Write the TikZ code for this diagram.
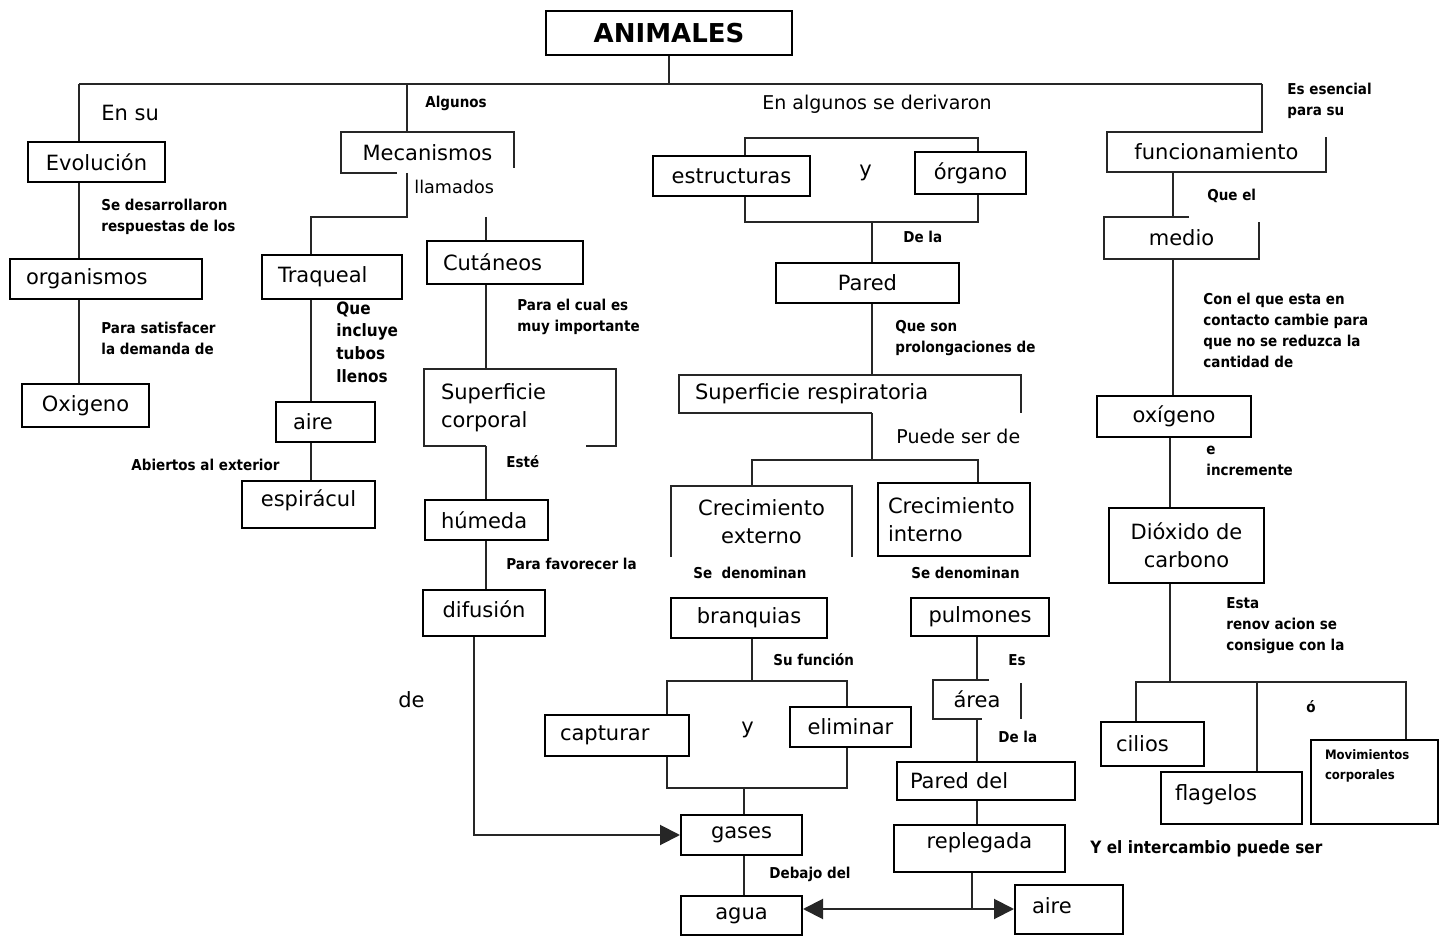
\documentclass[tikz,border=0pt]{standalone}
\usepackage{fontspec}
\setmainfont{DejaVu Sans}
\newfontfamily\condfont[FakeStretch=0.9]{DejaVu Sans}
\usetikzlibrary{arrows.meta, positioning, calc}
\newcommand{\fBox}{\fontsize{10.5}{14}\selectfont}
\newcommand{\fTitle}{\bfseries\fontsize{13}{15}\selectfont}
\newcommand{\fMid}{\fontsize{9.5}{12}\selectfont}
\newcommand{\fLbl}{\condfont\bfseries\fontsize{7.5}{10.5}\selectfont}
\newcommand{\fMedB}{\condfont\bfseries\fontsize{8.5}{11.3}\selectfont}
\newcommand{\fMov}{\condfont\bfseries\fontsize{6.5}{10}\selectfont}

\begin{document}
\begin{tikzpicture}[x=0.5pt, y=-0.5pt,
        box/.style={draw, line width=1pt, inner sep=0pt, font=\fBox, align=center},
        obox/.style={box, draw=none},
        lnk/.style={line width=1pt, draw=black!85},
        tip/.style={lnk, -{Triangle[length=10pt,width=10pt]}},
        lbl/.style={anchor=west, inner sep=0pt, align=left, font=\fLbl}
      ]
        \useasboundingbox (0,0) rectangle (1448,936);

        % Top
        \node (anim) [box, font=\fTitle, minimum width=123pt, minimum height=22pt] at (669,33) {ANIMALES};
        \coordinate (barL) at (79,84);
        \coordinate (barR) at (1262,84);
        \draw [lnk] (anim.south) -- (anim.south |- barL);
        \draw [lnk] (barL) -- (barR);

        % Evolution branch
        \node (evo) [box, minimum width=68.5pt, minimum height=20pt] at (96.5,162) {Evolución};
        \node (orgs) [box, minimum width=96pt, minimum height=20pt, text width=80pt, align=left] at (106,279) {organismos};
        \node (oxi) [box, minimum width=63.5pt, minimum height=21.5pt] at (85.5,405.5) {Oxigeno};
        \draw [lnk] (barL) -- (barL |- evo.north);
        \draw [lnk] (evo.south -| barL) -- (orgs.north -| barL);
        \draw [lnk] (orgs.south -| barL) -- (oxi.north -| barL);
        \node (lEnsu) [lbl, font=\fBox] at (101,113) {En su};
        \node (lDesa) [lbl] at (101,217) {Se desarrollaron\\respuestas de los};
        \node (lSatis) [lbl] at (101,338) {Para satisfacer\\la demanda de};

        % Mechanisms branch
        \node (mec) [obox, minimum width=85.5pt, minimum height=19.5pt] at (427.5,152.5) {Mecanismos};
        \coordinate (mecT) at (407,84);
        \coordinate (trqbar) at (407,217);
        \coordinate (trqL) at (311,217);
        \coordinate (cutT) at (486,217);
        \draw [lnk] (mecT) -- (mecT |- mec.north);
        \draw [lnk] ($(mec.south west)+(56,0)$) -- (mec.south west) -- (mec.north west) -- (mec.north east) -- ++(0,36);
        \node (lAlg) [lbl] at (425,103) {Algunos};
        \node (lLlam) [lbl, font=\fontsize{8.8}{11}\selectfont] at (414,187) {llamados};

        \node (traq) [box, minimum width=70pt, minimum height=22pt, text width=54pt, align=left] at (332,277) {Traqueal};
        \node (aire) [box, minimum width=49.5pt, minimum height=20pt, text width=32.5pt, align=left] at (325.5,422) {aire};
        \node (espi) [box, minimum width=66.5pt, minimum height=23.5pt, text depth=6.5pt] at (308.5,504.5) {espirácul};
        \draw [lnk] (mec.south -| mecT) -- (trqbar) -- (trqL) -- (trqL |- traq.north);
        \draw [lnk] (traq.south -| trqL) -- (aire.north -| trqL);
        \draw [lnk] (aire.south -| trqL) -- (espi.north -| trqL);
        \node (lTubos) [lbl, font=\fMedB] at (336,342) {Que\\incluye\\tubos\\llenos};
        \node (lAbier) [lbl] at (131,465) {Abiertos al exterior};

        \node (cut) [box, minimum width=78pt, minimum height=21.5pt, text width=62pt, align=left] at (505,262.5) {Cutáneos};
        \node (supc) [obox, minimum width=95pt, minimum height=37.5pt, text width=79pt, align=left] at (520,407.5) {Superficie\\corporal};
        \node (hum) [box, minimum width=61.5pt, minimum height=20pt, text width=45.5pt, align=left] at (486.5,520) {húmeda};
        \node (dif) [box, minimum width=61pt, minimum height=23pt, text depth=4pt] at (484,613) {difusión};
        \draw [lnk] (cutT) -- (cutT |- cut.north);
        \draw [lnk] (cut.south -| cutT) -- (supc.north -| cutT);
        \draw [lnk] (supc.south -| cutT) -- (supc.south west) -- (supc.north west) -- (supc.north east) -- (supc.south east) -- ++(-30,0);
        \draw [lnk] (supc.south -| cutT) -- (hum.north -| cutT);
        \draw [lnk] (hum.south -| cutT) -- (dif.north -| cutT);
        \node (lCual) [lbl] at (517,317) {Para el cual es\\muy importante};
        \node (lEste) [lbl] at (506,462) {Esté};
        \node (lFavor) [lbl] at (506,564) {Para favorecer la};
        \node (lDe) [lbl, font=\fBox] at (398,700) {de};

        % Structures branch
        \node (lDeriv) [lbl, font=\fMid] at (762,104) {En algunos se derivaron};
        \node (estr) [box, minimum width=78.5pt, minimum height=20pt] at (731.5,176) {estructuras};
        \node (organo) [box, minimum width=55.5pt, minimum height=21pt] at (970.5,173) {órgano};
        \node (lY1) [lbl, font=\fBox] at (859,173) {y};
        \coordinate (brL) at (745,138);
        \coordinate (brR) at (978,138);
        \coordinate (brB) at (872,222);
        \draw [lnk] (brL |- estr.north) -- (brL) -- (brR) -- (brR |- organo.north);
        \draw [lnk] (brL |- estr.south) -- (brL |- brB) -- (brR |- brB) -- (brR |- organo.south);

        \node (pared) [box, minimum width=91.5pt, minimum height=20pt] at (867.5,283) {Pared};
        \node (supr) [obox, minimum width=170pt, minimum height=18pt, text width=155pt, align=left] at (850,394) {Superficie respiratoria};
        \draw [lnk] (brB) -- (brB |- pared.north);
        \draw [lnk] (pared.south -| brB) -- (supr.north -| brB);
        \draw [lnk] (supr.south -| brB) -- (supr.south west) -- (supr.north west) -- (supr.north east) -- ++(0,38);
        \node (lDela1) [lbl] at (903,237) {De la};
        \node (lProl) [lbl] at (895,338) {Que son\\prolongaciones de};
        \node (lPuede) [lbl, font=\fMid] at (896,436) {Puede ser de};

        \node (crex) [obox, minimum width=89.5pt, minimum height=34.5pt] at (761.5,521.5) {Crecimiento\\externo};
        \node (crin) [box, minimum width=76pt, minimum height=36.5pt, text width=66pt, align=left] at (954,519.5) {Crecimiento\\interno};
        \coordinate (crL) at (752,460);
        \coordinate (crR) at (978,460);
        \draw [lnk] (supr.south -| brB) -- (brB |- crL);
        \draw [lnk] (crL |- crex.north) -- (crL) -- (crR) -- (crR |- crin.north);
        \draw [lnk] (crex.south west) -- (crex.north west) -- (crex.north east) -- (crex.south east);
        \node (lDen1) [lbl] at (693,573) {Se\ \ denominan};
        \node (lDen2) [lbl] at (911,573) {Se denominan};

        % Gills
        \node (bran) [box, minimum width=78pt, minimum height=20pt] at (749,618) {branquias};
        \node (capt) [box, minimum width=72pt, minimum height=20.5pt, text width=57pt, align=left] at (617,735.5) {capturar};
        \node (elim) [box, minimum width=60.5pt, minimum height=20pt] at (850.5,727) {eliminar};
        \node (gases) [box, minimum width=60.5pt, minimum height=20pt] at (741.5,835) {gases};
        \node (agua) [box, minimum width=60.5pt, minimum height=19.5pt] at (741.5,915.5) {agua};
        \node (lY2) [lbl, font=\fBox] at (741,730) {y};
        \coordinate (fnT) at (752,681);
        \coordinate (fnL) at (667,681);
        \coordinate (fnR) at (847,681);
        \coordinate (fnB) at (744,788);
        \coordinate (difL) at (474,0);
        \draw [lnk] (bran.south -| fnT) -- (fnT);
        \draw [lnk] (fnL |- capt.north) -- (fnL) -- (fnR) -- (fnR |- elim.north);
        \draw [lnk] (fnL |- capt.south) -- (fnL |- fnB) -- (fnR |- fnB) -- (fnR |- elim.south);
        \draw [lnk] (fnB) -- (fnB |- gases.north);
        \draw [lnk] (gases.south -| fnB) -- (agua.north -| fnB);
        \draw [tip] (dif.south -| difL) |- (gases.west);
        \node (lFunc) [lbl] at (773,660) {Su función};
        \node (lDebajo) [lbl] at (769,874) {Debajo del};

        % Lungs
        \node (pulm) [box, minimum width=69pt, minimum height=19pt] at (980,617) {pulmones};
        \node (area) [obox, minimum width=43pt, minimum height=18.5pt] at (977,699.5) {área};
        \node (pdel) [box, minimum width=89pt, minimum height=19pt, text width=76pt, align=left] at (986,781) {Pared del};
        \node (repl) [box, minimum width=85.5pt, minimum height=23.5pt, text depth=7.5pt] at (979.5,848.5) {replegada};
        \node (aire2) [box, minimum width=54pt, minimum height=24.5pt, text width=37pt, align=left, text depth=4pt] at (1069,909.5) {aire};
        \coordinate (puX) at (977,0);
        \coordinate (jn) at (972,909);
        \draw [lnk] (pulm.south -| puX) -- (area.north -| puX);
        \draw [lnk] ($(area.north west)+(56,0)$) -- (area.north west) -- (area.south west) -- ++(49,0);
        \draw [lnk] ($(area.north east)+(0,3)$) -- (area.south east);
        \draw [lnk] (area.south -| puX) -- (pdel.north -| puX);
        \draw [lnk] (pdel.south -| puX) -- (repl.north -| puX);
        \draw [lnk] (repl.south -| jn) -- (jn);
        \draw [lnk, {Triangle[length=10pt,width=10pt]}-{Triangle[length=10pt,width=10pt]}] (agua.east |- jn) -- (aire2.west |- jn);
        \node (lEs) [lbl] at (1008,660) {Es};
        \node (lDela2) [lbl] at (998,737) {De la};
        \node (lInter) [lbl, font=\fMedB] at (1090,849) {Y el intercambio puede ser};

        % Function branch
        \node (func) [obox, minimum width=108.5pt, minimum height=19pt] at (1216.5,152) {funcionamiento};
        \node (medio) [obox, minimum width=76.5pt, minimum height=20pt] at (1181.5,238) {medio};
        \node (oxg) [box, minimum width=77pt, minimum height=20.5pt] at (1174,416.5) {oxígeno};
        \node (diox) [box, minimum width=77.5pt, minimum height=37.5pt] at (1186.5,545.5) {Dióxido de\\carbono};
        \coordinate (fuX) at (1173,0);
        \coordinate (oxX) at (1170,0);
        \draw [lnk] (barR) -- (barR |- func.north) -- (func.north west) -- (func.south west) -- (func.south east) -- ++(0,-35);
        \draw [lnk] (func.south -| fuX) -- (medio.north -| fuX);
        \draw [lnk] ($(medio.north west)+(85,0)$) -- (medio.north west) -- (medio.south west) -- (medio.south east) -- ++(0,-37);
        \draw [lnk] (medio.south -| fuX) -- (oxg.north -| fuX);
        \draw [lnk] (oxg.south -| oxX) -- (diox.north -| oxX);
        \node (lEsen) [lbl] at (1287,101) {Es esencial\\para su};
        \node (lQueel) [lbl] at (1207,196) {Que el};
        \node (lCont) [lbl] at (1203,330) {Con el que esta en\\contacto cambie para\\que no se reduzca la\\cantidad de};
        \node (lIncr) [lbl] at (1206,461) {e\\incremente};

        \node (cil) [box, minimum width=51.5pt, minimum height=22pt, text width=36.5pt, align=left] at (1152.5,744) {cilios};
        \node (flag) [box, minimum width=70.5pt, minimum height=26pt, text width=56.5pt, align=left, text depth=5.5pt] at (1231.5,798) {flagelos};
        \node (movi) [box, font=\fMov, minimum width=63.5pt, minimum height=42pt, text width=49.5pt, align=left, text depth=27pt] at (1374.5,782) {Movimientos\\corporales};
        \coordinate (mvL) at (1136,682);
        \coordinate (mvM) at (1257,682);
        \coordinate (mvR) at (1406,682);
        \draw [lnk] (diox.south -| oxX) -- (oxX |- mvL);
        \draw [lnk] (mvL |- cil.north) -- (mvL) -- (mvR) -- (mvR |- movi.north);
        \draw [lnk] (mvM) -- (mvM |- flag.north);
        \node (lRenov) [lbl] at (1226,626) {Esta\\renov acion se\\consigue con la};
        \node (lO) [lbl] at (1306,707) {ó};
      \end{tikzpicture}
\end{document}
